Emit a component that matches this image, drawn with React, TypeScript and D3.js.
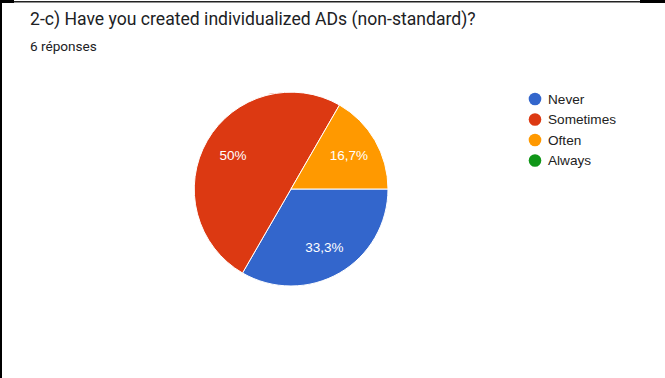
import React from "react";
import * as d3 from "d3";

const TITLE = "2-c) Have you created individualized ADs (non-standard)?";
const SUBTITLE = "6 réponses";
const categories = ["Never", "Sometimes", "Often", "Always"];
const values = [2, 3, 1, 0];
const colors = ["#3366cc", "#dc3912", "#ff9900", "#109618"];

const W = 665;
const H = 378;

function fmtPct(v: number, total: number) {
  const p = (v / total) * 100;
  const r = Math.round(p * 10) / 10;
  const s = Number.isInteger(r) ? String(r) : r.toFixed(1).replace(".", ",");
  return s + "%";
}

export default function App() {
  const cx = 291;
  const cy = 189;
  const r = 97;
  const total = d3.sum(values);
  const data = categories.map((c, i) => ({ c, v: values[i], color: colors[i] }));
  const pie = d3
    .pie<any>()
    .value((d: any) => d.v)
    .sort(null)
    .startAngle(Math.PI / 2)
    .endAngle(Math.PI / 2 + 2 * Math.PI);
  const arcs = pie(data);
  const arc = d3.arc<any>().innerRadius(0).outerRadius(r);
  const labelArc = d3.arc<any>().innerRadius(r * 0.69).outerRadius(r * 0.69);
  const legendY = d3.scaleLinear().domain([0, 1]).range([99, 119.5]);

  return (
    <>
      <style>{`body{margin:0;}`}</style>
      <svg width={W} height={H} style={{ display: "block", background: "#fff" }}>
        <rect x={0} y={0} width={W} height={H} fill="#fff" />
        {/* frame */}
        <rect x={0} y={0} width={14} height={3} fill="#000" />
        <rect x={640} y={0} width={25} height={3} fill="#000" />
        <rect x={14} y={1} width={626} height={1.5} fill="#222" />
        <rect x={0} y={0} width={2} height={H} fill="#000" />

        <text
          x={30}
          y={25}
          fontFamily="Roboto, sans-serif"
          fontSize={17.6}
          fill="#202124"
        >
          {TITLE}
        </text>
        <text x={30} y={51} fontFamily="Roboto, sans-serif" fontSize={13.6} fill="#202124">
          {SUBTITLE}
        </text>

        <g transform={`translate(${cx},${cy})`}>
          {arcs.map((a: any, i: number) =>
            a.data.v > 0 ? (
              <path key={i} d={arc(a) as string} fill={a.data.color} stroke="#fff" strokeWidth={1} />
            ) : null
          )}
          {arcs.map((a: any, i: number) => {
            if (a.data.v <= 0) return null;
            const [x, y] = labelArc.centroid(a);
            return (
              <text
                key={"l" + i}
                x={x}
                y={y}
                dy="0.35em"
                textAnchor="middle"
                fontFamily="Arial, 'Liberation Sans', sans-serif"
                fontSize={13.5}
                fill="#fff"
              >
                {fmtPct(a.data.v, total)}
              </text>
            );
          })}
        </g>

        {data.map((d, i) => (
          <g key={d.c} transform={`translate(535,${legendY(i)})`}>
            <circle r={6.3} fill={d.color} />
            <text
              x={13}
              y={0}
              dy="0.36em"
              fontFamily="Arial, 'Liberation Sans', sans-serif"
              fontSize={13.6}
              fill="#222"
            >
              {d.c}
            </text>
          </g>
        ))}
      </svg>
    </>
  );
}
